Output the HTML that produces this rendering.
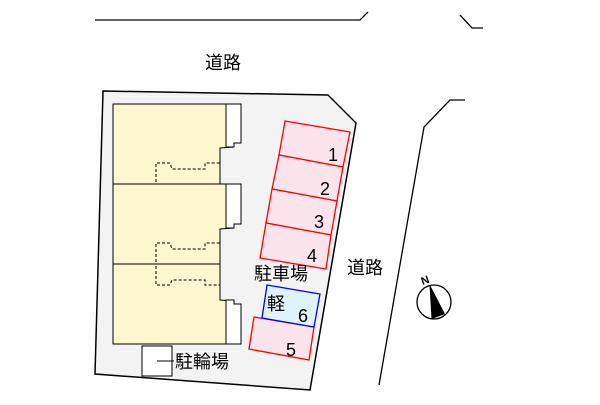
<!DOCTYPE html>
<html><head><meta charset="utf-8"><style>
body{margin:0;background:#fff}
svg text{font-family:"Liberation Sans","Noto Sans CJK JP",sans-serif}
</style></head><body>
<svg width="600" height="400" viewBox="0 0 600 400" xmlns="http://www.w3.org/2000/svg">
<g fill="none" stroke="#000" stroke-width="1.3">
<polyline points="95,20 360,20 368,12"/>
<polyline points="460,15 472,28 483,28"/>
<polyline points="465,100 450,100 424,127 379,385"/>
</g>
<polygon points="103,91 328,95 356,123 310,390 95,374" fill="#f3f3f3" stroke="#000" stroke-width="1.5"/>
<g stroke="#000" stroke-width="1">
<polygon points="113,104 226,104 226,143 234,143 234,147 220,148 220,184 113,184" fill="#fdf8cf"/>
<polygon points="113,184 226,184 226,224 234,224 234,228 220,229 220,264 113,264" fill="#fdf8cf"/>
<polygon points="113,264 220,264 220,300 234,301 234,304 226,304 226,344 113,344" fill="#fdf8cf"/>
<polygon points="226,104 241,104 241,143 234,143 234,147 226,147" fill="#fff"/>
<polygon points="226,184 241,184 241,224 234,224 234,228 226,228" fill="#fff"/>
<polygon points="226,344 241,344 241,304 234,304 234,300 226,300" fill="#fff"/>
</g>
<g fill="none" stroke="#000" stroke-width="1" stroke-dasharray="3,2">
<polyline points="156,182 156,163 170,163 172,169 205,169 205,163 220,163"/>
<polyline points="156,262 156,243 170,243 172,249 205,249 205,243 220,243"/>
<polyline points="156,266 156,285 170,285 172,280 205,280 205,285 220,285"/>
</g>
<g fill="#fce4ec" stroke="#f00" stroke-width="1.3">
<polygon points="285,121 350,132 343,167 279,155"/>
<polygon points="279,155 343,167 337,201 272,189"/>
<polygon points="272,189 337,201 331,235 266,223"/>
<polygon points="266,223 331,235 326,269 260,258"/>
<polygon points="254,317 314,327 309,360 249,349"/>
</g>
<polygon points="267,285 320,294 314,327 262,318" fill="#dff3fb" stroke="#00f" stroke-width="1.3"/>
<g font-size="18" fill="#000">
<text x="328" y="161">1</text>
<text x="320" y="195">2</text>
<text x="314" y="228">3</text>
<text x="307" y="262">4</text>
<text x="298" y="322">6</text>
<text x="286" y="356">5</text>
<text x="267" y="310">軽</text>
<text x="254" y="280">駐車場</text>
<text x="175" y="368">駐輪場</text>
<text x="205" y="69">道路</text>
<text x="347" y="274">道路</text>
</g>
<rect x="142" y="346" width="30" height="30" fill="#fff" stroke="#000"/>
<line x1="157" y1="361" x2="174" y2="361" stroke="#000"/>
<circle cx="434" cy="302" r="17" fill="#fff" stroke="#000" stroke-width="1.3"/>
<polygon points="430,285 445,314 432,319" fill="#000"/>
<line x1="430" y1="285" x2="432" y2="319" stroke="#000"/>
<text x="421" y="284" font-size="11" font-weight="bold" transform="rotate(-20 425 280)">N</text>
</svg>
</body></html>
